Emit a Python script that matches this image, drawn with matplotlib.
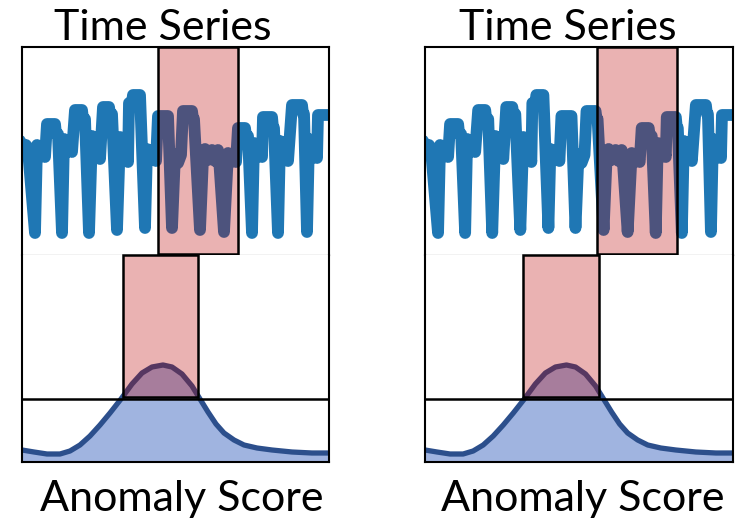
import matplotlib
matplotlib.use('Agg')
import matplotlib.pyplot as plt
from matplotlib.patches import Rectangle

# time series (same signal in both panels)
ts_t = [0, 2, 4, 6, 13,
        15, 18, 20, 23, 25, 33, 34, 36, 40,
        42, 45, 47, 50, 53, 60, 61, 63, 67,
        70, 73, 75, 78, 81, 87, 88, 90, 95,
        98, 101, 103, 106, 107, 110, 111, 118, 123,
        125, 128, 131, 134, 136, 146, 150,
        153, 156, 159, 161, 170, 171, 172, 178,
        181, 183, 186, 190, 193, 196, 197, 202,
        206, 209, 211, 214, 216, 223, 224, 226, 230,
        232, 235, 237, 240, 241, 250, 251, 252, 256,
        258, 261, 263, 266, 270, 280, 281, 282, 285,
        287, 290, 292, 295, 296, 307]
ts_v = [106, 103, 105, 100, 17,
        105, 94, 104, 93, 126, 126, 116, 116, 17,
        111, 98, 110, 98, 140, 140, 131, 131, 17,
        114, 92, 113, 91, 143, 143, 136, 136, 20,
        113, 90, 112, 88, 147, 147, 155, 155, 22,
        101, 90, 100, 89, 134, 134, 22,
        96, 87, 95, 139, 139, 131, 131, 20,
        92, 101, 90, 100, 89, 100, 92, 18,
        97, 88, 96, 88, 122, 122, 114, 114, 17,
        107, 93, 106, 93, 133, 133, 122, 122, 17,
        109, 90, 108, 89, 145, 145, 136, 136, 18,
        111, 92, 110, 92, 135, 135]

# anomaly score curve
score_t = [0, 12, 25, 38, 48, 58, 68, 78, 88, 99, 110, 120, 130, 141,
           150, 160, 170, 178, 186, 194, 202, 212, 222, 235, 250, 270, 290, 307]
score_v = [12, 10, 8, 8, 11, 17, 26, 37, 49, 63, 78, 89, 95, 97,
           95, 88, 76, 63, 50, 38, 29, 22, 17, 14, 12, 10, 9, 9]
threshold = 63

# highlighted windows per panel
ts_windows = [(136, 216), (171, 251)]
score_windows = [(101, 176), (98, 173)]

titles_top = ['Time Series', 'Time Series']
titles_bottom = ['Anomaly Score', 'Anomaly Score']

W, H = 743, 520
fig = plt.figure(figsize=(W / 100, H / 100), dpi=100)
plt.rcParams['font.family'] = ['Lato', 'DejaVu Sans']

panel_x = [22, 425]
panel_w = [307, 308]
top_cx = [163, 568]
bot_cx = [182, 583]
red = (0.73, 0.0, 0.0, 0.3)

for i in range(2):
    x0 = panel_x[i] / W
    w = panel_w[i] / W
    ax_ts = fig.add_axes([x0, 265 / H, w, 208 / H])
    ax_sc = fig.add_axes([x0, 58 / H, w, 207 / H])

    ax_ts.plot(ts_t, ts_v, color='#1f77b4', lw=8.5, zorder=2)
    ax_ts.set_xlim(0, 307)
    ax_ts.set_ylim(-5, 203)
    a, b = ts_windows[i]
    ax_ts.add_patch(Rectangle((a, -4), b - a, 207, facecolor=red,
                              edgecolor='black', lw=1.8, zorder=3, clip_on=False))

    ax_sc.fill_between(score_t, score_v, 0, color='#a0b4e0', lw=0, zorder=1)
    ax_sc.plot(score_t, score_v, color='#2c4f8c', lw=3.8, zorder=2)
    ax_sc.axhline(threshold, color='black', lw=1.8, zorder=4)
    ax_sc.set_xlim(0, 307)
    ax_sc.set_ylim(0, 207)
    a, b = score_windows[i]
    ax_sc.add_patch(Rectangle((a, 65), b - a, 142, facecolor=red,
                              edgecolor='black', lw=1.8, zorder=3, clip_on=False))

    for ax in (ax_ts, ax_sc):
        ax.set_xticks([])
        ax.set_yticks([])
        for s in ax.spines.values():
            s.set_color('black')
            s.set_linewidth(1.5)
    ax_ts.spines['bottom'].set_color('#999999')
    ax_ts.spines['bottom'].set_linewidth(0.9)
    ax_sc.spines['top'].set_visible(False)

    fig.text(top_cx[i] / W, 1 - 40 / H, titles_top[i], ha='center',
             va='baseline', fontsize=31)
    fig.text(bot_cx[i] / W, 1 - 511 / H, titles_bottom[i], ha='center',
             va='baseline', fontsize=31)

fig.savefig('out.png', dpi=100)
